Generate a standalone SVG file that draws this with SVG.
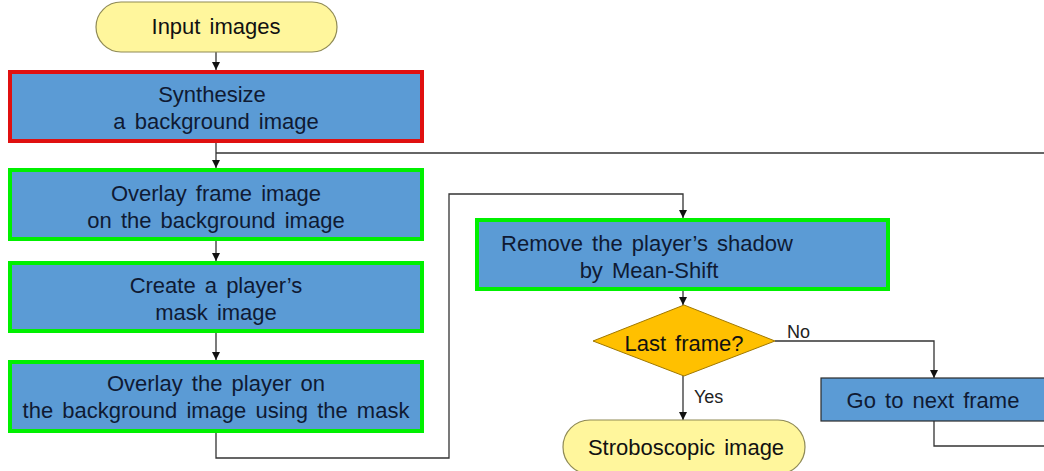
<svg xmlns="http://www.w3.org/2000/svg" width="1044" height="471" viewBox="0 0 1044 471">
  <style>
    .lbl { font-family: "Liberation Sans", Arial, sans-serif; font-size: 22px; text-anchor: middle; word-spacing: 3px; }
    .dark { fill: #0f1a33; }
    .blk { fill: #111111; }
    .small { font-family: "Liberation Sans", Arial, sans-serif; font-size: 18px; fill: #222222; stroke: none; }
    .term { fill: #fff69c; stroke: #8f8a55; stroke-width: 1.2; }
    .proc { fill: #5b9bd5; }
    .red { stroke: #e01010; stroke-width: 4; }
    .grn { stroke: #00f000; stroke-width: 4; }
    .plain { stroke: #2b2b2b; stroke-width: 1.2; }
    .dec { fill: #ffc000; stroke: #a07800; stroke-width: 1; }
    .wire { fill: none; stroke: #333333; stroke-width: 1.3; }
  </style>
  <defs>
    <marker id="arr" viewBox="0 0 10 10" refX="10" refY="5" markerWidth="8" markerHeight="8" markerUnits="userSpaceOnUse" orient="auto">
      <path d="M0,0 L10,5 L0,10 z" fill="#111111" stroke="none"/>
    </marker>
  </defs>
  <rect width="1044" height="471" fill="#ffffff"/>

  <!-- connectors -->
  <g id="connectors">
    <g class="wire">
      <line x1="216" y1="52" x2="216" y2="70" marker-end="url(#arr)"/>
      <line x1="216" y1="143" x2="216" y2="168" marker-end="url(#arr)"/>
      <line x1="216" y1="153" x2="1044" y2="153"/>
      <line x1="216" y1="241" x2="216" y2="261" marker-end="url(#arr)"/>
      <line x1="216" y1="333" x2="216" y2="360" marker-end="url(#arr)"/>
      <polyline points="216,433 216,458 449,458 449,194 683,194 683,218" marker-end="url(#arr)"/>
      <line x1="683" y1="291" x2="683" y2="305" marker-end="url(#arr)"/>
      <line x1="683" y1="375" x2="683" y2="420" marker-end="url(#arr)"/>
      <polyline points="775,341 934,341 934,378" marker-end="url(#arr)"/>
      <polyline points="934,421 934,446 1044,446"/>
    </g>
    <text class="small" x="787" y="338">No</text>
    <text class="small" x="694" y="403">Yes</text>
  </g>

  <g id="input-images">
    <rect class="term" x="96" y="2" width="241" height="50" rx="25" ry="25"/>
    <text class="lbl blk" x="216" y="34">Input images</text>
  </g>

  <g id="synthesize">
    <rect class="proc red" x="10" y="72" width="412" height="69"/>
    <text class="lbl dark" x="212" y="102">Synthesize</text>
    <text class="lbl dark" x="216" y="129">a background image</text>
  </g>

  <g id="overlay-frame">
    <rect class="proc grn" x="10" y="170" width="412" height="69"/>
    <text class="lbl dark" x="216" y="201">Overlay frame image</text>
    <text class="lbl dark" x="216" y="228">on the background image</text>
  </g>

  <g id="create-mask">
    <rect class="proc grn" x="10" y="263" width="412" height="68"/>
    <text class="lbl dark" x="216" y="293">Create a player’s</text>
    <text class="lbl dark" x="216" y="320">mask image</text>
  </g>

  <g id="overlay-player">
    <rect class="proc grn" x="10" y="362" width="412" height="69"/>
    <text class="lbl dark" x="216" y="391">Overlay the player on</text>
    <text class="lbl dark" x="216" y="418">the background image using the mask</text>
  </g>

  <g id="remove-shadow">
    <rect class="proc grn" x="477" y="220" width="411" height="69"/>
    <text class="lbl dark" x="647" y="251">Remove the player’s shadow</text>
    <text class="lbl dark" x="649" y="278">by Mean-Shift</text>
  </g>

  <g id="last-frame">
    <polygon class="dec" points="684,305 775,341 684,376 593,341"/>
    <text class="lbl blk" x="684" y="351">Last frame?</text>
  </g>

  <g id="next-frame">
    <rect class="proc plain" x="821" y="378" width="240" height="43"/>
    <text class="lbl dark" x="933" y="408">Go to next frame</text>
  </g>

  <g id="stroboscopic">
    <rect class="term" x="563" y="420" width="242" height="54" rx="27" ry="27"/>
    <text class="lbl blk" x="686" y="455">Stroboscopic image</text>
  </g>
</svg>
